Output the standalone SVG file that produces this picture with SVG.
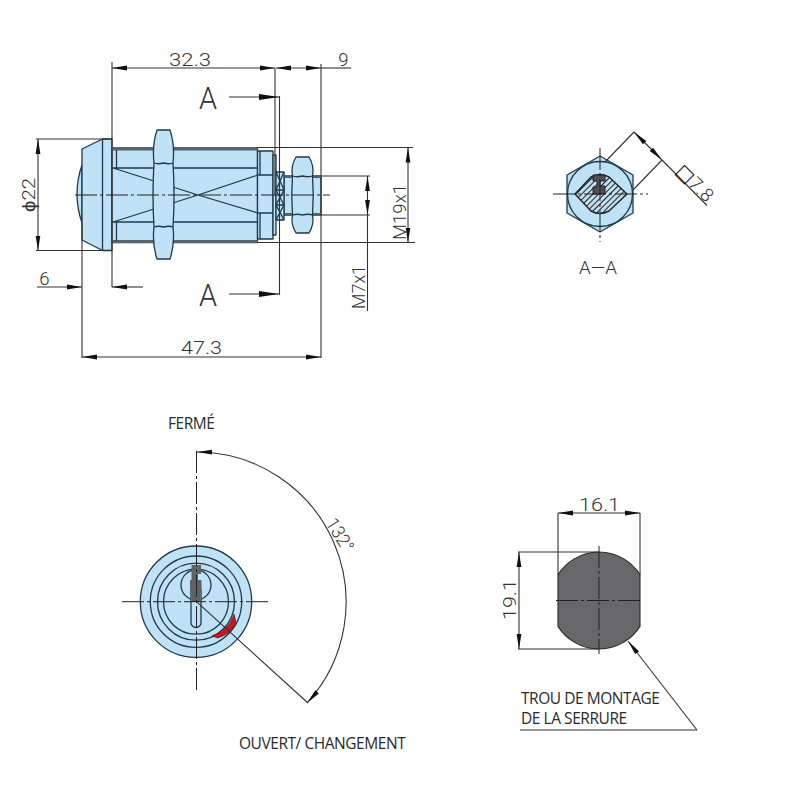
<svg xmlns="http://www.w3.org/2000/svg" width="800" height="800" viewBox="0 0 800 800">
<style>
.p{fill:#bfe2f6;stroke:#1f3a4a;stroke-width:1.3;stroke-linejoin:round}
.o{fill:none;stroke:#1f3a4a;stroke-width:1.3}
.d{fill:none;stroke:#333;stroke-width:1.1}
.c{fill:none;stroke:#222;stroke-width:1;stroke-dasharray:22 3 3 3}
.t{font-family:"Roboto","Liberation Sans",sans-serif;fill:#333;font-size:18.500px;font-weight:300}
.b{font-size:32px}
.n{font-family:"Open Sans","Noto Sans",sans-serif;fill:#2a2a2a;font-size:15.500px;letter-spacing:-.45px}
</style>
<defs>
<marker id="a" viewBox="0 0 15 6" refX="15" refY="3" markerWidth="15" markerHeight="6" markerUnits="userSpaceOnUse" orient="auto-start-reverse"><path d="M0 .6L15 3L0 5.400Z" fill="#111"/></marker>
<marker id="l" viewBox="0 0 20 7" refX="20" refY="3.500" markerWidth="20" markerHeight="7" markerUnits="userSpaceOnUse" orient="auto"><path d="M0 .5L20 3.500L0 6.500Z" fill="#111"/></marker>
<pattern id="h" width="4" height="4" patternUnits="userSpaceOnUse" patternTransform="rotate(-45)"><rect width="4" height="4" fill="#c4deed"/><line x1="0" y1="0" x2="4" y2="0" stroke="#1d262c" stroke-width="2"/></pattern>
</defs>

<g id="side-view">
<path class="p" d="M82 165Q72 194 82 223Z"/>
<path class="p" d="M82 149L102.500 139H112V250.500H102.500L82 240Z"/>
<line class="o" x1="102.500" y1="139" x2="102.500" y2="250.500"/>
<rect class="p" x="112" y="148" width="145.500" height="94.500"/>
<path d="M112 147.500H257.500V150.500H112ZM112 240H257.500V243H112Z" fill="#56646e"/>
<path class="o" d="M116.500 150V168M116.500 222V241M112 168H257M112 222H257M113 168L198 195L258 213M113 222L198 195L258 175"/>
<path class="p" d="M257.500 151H273V239H257.500Z"/>
<path class="o" d="M258 175H273M258 213H273M260 151V175M260 213V239"/>
<rect class="p" x="273" y="155" width="3" height="80"/>
<rect class="p" x="284" y="176" width="37" height="39"/>
<path d="M284 175.500H321V178H284ZM284 213H321V215.500H284Z" fill="#56646e"/>
<rect class="p" x="276" y="172" width="8" height="48"/>
<path class="o" d="M276 172L284 190L276 205L284 220M284 172L276 190L284 205L276 220M276 190H284M276 205H284"/>
<path class="p" d="M157 130H170Q175 145 173 163Q175 195 173 227Q175 244 170 259H157Q152 244 154 227Q152 195 154 163Q152 145 157 130Z"/>
<path class="o" d="M154 163Q158 164.500 163.500 163Q169 164.500 173 163M154 227Q158 225.500 163.500 227Q169 225.500 173 227"/>
<path class="p" d="M296 157H309Q314.500 166 312.500 176Q314 195 312.500 215Q314.500 224 309 233H296Q290.500 224 292.500 215Q291 195 292.500 176Q290.500 166 296 157Z"/>
<path class="o" d="M292.500 176Q297 177.500 302.500 176Q308 177.500 312.500 176M292.500 215Q297 213.500 302.500 215Q308 213.500 312.500 215"/>
</g>

<g id="section-view">
<path class="p" d="M600 156L633 175V213L600 232L567 213V175Z"/>
<circle class="p" cx="600" cy="194" r="32.500"/>
<path d="M575 194L591 177Q600 172 609 177L627 194L609 211Q600 216 591 211Z" fill="url(#h)" stroke="#1f2b33" stroke-width="1.500" stroke-linejoin="round"/>
<path d="M593 175H605V181H600V186H605V194H593V187H597V181H593Z" fill="#4d5154" stroke="#222" stroke-width="1"/>
</g>

<g id="key-view">
<circle class="p" cx="196" cy="601.700" r="55.700"/>
<circle class="o" cx="196" cy="601.700" r="45.700"/>
<circle class="o" cx="196" cy="601.700" r="38.500"/>
<circle class="o" cx="196" cy="601.700" r="32.500"/>
<circle class="o" cx="196" cy="585" r="15"/>
<path class="p" d="M191 590V622.500A5 5 0 0 0 201 622.500V590Z"/>
<path d="M191.500 565H201V574H198V580H201.500V592H200V602H191.500V590H190V580H191.500Z" fill="#5f6366"/>
<path d="M234 614Q228 631 212 636L218 638Q233 633 236 622Z" fill="#d7111c" stroke="#222" stroke-width=".6"/>
</g>

<g id="mounting-hole">
<path d="M558 574.600A48.500 48.500 0 0 1 640 574.600V626.400A48.500 48.500 0 0 1 558 626.400Z" fill="#67676a" stroke="#2a2a2a" stroke-width="1.100"/>
</g>

<g id="connectors">
<path class="c" d="M75 195H330"/>
<path class="c" d="M553 194H648M600 148V242"/>
<path class="c" d="M122 601.700H270M196.500 451V692"/>
<path class="c" d="M556 600.500H643M599 546V654"/>
<path class="d" d="M112 62V287M275 68V195M321 64V358M82 223V358M279.500 96V295"/>
<path class="d" d="M257 147.500H413M257 242.500H415M321 176H370M321 215H370M36 139H112M36 250.500H112"/>
<line class="d" x1="112" y1="68" x2="275" y2="68" marker-start="url(#a)" marker-end="url(#a)"/>
<line class="d" x1="276" y1="68" x2="321" y2="68" marker-start="url(#a)" marker-end="url(#a)"/>
<line class="d" x1="321" y1="68" x2="351" y2="68"/>
<line class="d" x1="229" y1="97" x2="279" y2="97" marker-end="url(#l)"/>
<line class="d" x1="229" y1="294" x2="279" y2="294" marker-end="url(#l)"/>
<line class="d" x1="38" y1="139" x2="38" y2="250.500" marker-start="url(#a)" marker-end="url(#a)"/>
<line class="d" x1="37" y1="287" x2="82" y2="287" marker-end="url(#a)"/>
<line class="d" x1="143" y1="287" x2="112" y2="287" marker-end="url(#a)"/>
<line class="d" x1="82" y1="357" x2="321" y2="357" marker-start="url(#a)" marker-end="url(#a)"/>
<line class="d" x1="408" y1="147.500" x2="408" y2="242.500" marker-start="url(#a)" marker-end="url(#a)"/>
<line class="d" x1="367.500" y1="176" x2="367.500" y2="215" marker-start="url(#a)" marker-end="url(#a)"/>
<line class="d" x1="367.500" y1="215" x2="367.500" y2="311"/>
<path class="d" d="M605 162L634 132M633 190L662 160M662 160L707 205.500"/>
<line class="d" x1="634" y1="132" x2="662" y2="160" marker-start="url(#a)" marker-end="url(#a)"/>
<path class="d" d="M196.500 601.700L308 703"/>
<path class="d" d="M197 452A150 150 0 0 1 307 703" marker-start="url(#a)" marker-end="url(#a)"/>
<line class="d" x1="558" y1="513" x2="640" y2="513" marker-start="url(#a)" marker-end="url(#a)"/>
<path class="d" d="M558 513V575M640 513V575M518 552H599M518 649H599"/>
<line class="d" x1="519" y1="552" x2="519" y2="649" marker-start="url(#a)" marker-end="url(#a)"/>
<line class="d" x1="697" y1="730" x2="628" y2="641" marker-end="url(#a)"/>
<path class="d" d="M520 730H697"/>
</g>

<g id="labels">
<text class="t" x="169" y="66" textLength="42" lengthAdjust="spacingAndGlyphs">32.3</text>
<text class="t" x="343.500" y="66" text-anchor="middle">9</text>
<text class="t b" x="199" y="109" textLength="18" lengthAdjust="spacingAndGlyphs">A</text>
<text class="t b" x="199" y="306" textLength="18" lengthAdjust="spacingAndGlyphs">A</text>
<text class="t" x="44.500" y="285" text-anchor="middle">6</text>
<text class="t" x="181" y="354" textLength="41" lengthAdjust="spacingAndGlyphs">47.3</text>
<text class="t" transform="translate(35 212) rotate(-90)" textLength="34" lengthAdjust="spacingAndGlyphs">ϕ22</text>
<text class="t" transform="translate(406 240) rotate(-90)" textLength="56" lengthAdjust="spacingAndGlyphs">M19x1</text>
<text class="t" transform="translate(365 309) rotate(-90)" textLength="44" lengthAdjust="spacingAndGlyphs">M7x1</text>
<text class="t" x="579" y="274" textLength="38" lengthAdjust="spacingAndGlyphs">A—A</text>
<text class="t" transform="translate(675 172) rotate(45)" letter-spacing=".5"><tspan font-family="DejaVu Sans" font-weight="400" fill="#111">□</tspan>7.8</text>
<text class="t" transform="translate(325 523) rotate(58)" textLength="36" lengthAdjust="spacingAndGlyphs">132°</text>
<text class="t" x="579" y="511" textLength="41" lengthAdjust="spacingAndGlyphs">16.1</text>
<text class="t" transform="translate(516 620) rotate(-90)" textLength="41" lengthAdjust="spacingAndGlyphs">19.1</text>
<text class="n" x="168" y="429">FERMÉ</text>
<text class="n" x="239" y="749">OUVERT/ CHANGEMENT</text>
<text class="n" x="521" y="704">TROU DE MONTAGE</text>
<text class="n" x="521" y="724">DE LA SERRURE</text>
</g>
</svg>
